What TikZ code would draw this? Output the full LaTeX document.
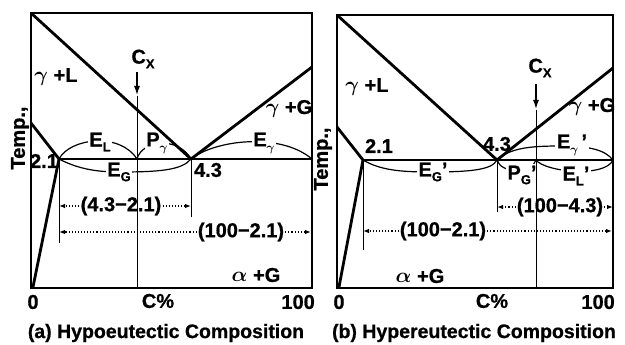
\documentclass[tikz,border=0pt]{standalone}
\usepackage{fontspec}
\setmainfont{Liberation Sans}[BoldFeatures={FakeBold=0.8}]
\usetikzlibrary{arrows.meta}
\newcommand{\lowidx}[1]{\raisebox{-0.45ex}{\fontsize{13}{13}\selectfont #1}}
\begin{document}
\begin{tikzpicture}[x=1pt,y=-1pt,
  frame/.style={line width=1.2pt},
  phase/.style={line width=2.8pt},
  thinphase/.style={line width=1.3pt},
  guide/.style={line width=1pt},
  arcline/.style={line width=1.2pt},
  dimline/.style={line width=1.1pt, dotted, -{Latex[length=6pt,width=4.5pt]}},
  cxarrow/.style={line width=2pt, -{Latex[length=10pt,width=6pt]}},
  lbl/.style={font=\fontsize{20}{20}\selectfont\bfseries\boldmath, inner sep=1pt},
  arclbl/.style={lbl, fill=white, inner sep=1.5pt},
  captext/.style={font=\fontsize{19.5}{20}\selectfont\bfseries, inner sep=0pt},
  axlbl/.style={lbl, rotate=90},
]
\useasboundingbox (0,0) rectangle (625,345);

% ================= panel (a) =================
\coordinate (aTL) at (31,13);
\coordinate (aBR) at (312,288);
\coordinate (aLs) at (31,123);
\coordinate (a21) at (59,159);
\coordinate (aLb) at (33,287);
\coordinate (a43) at (191,159);
\coordinate (aR)  at (312,159);
\coordinate (aGt) at (312,67);
\coordinate (aCt) at (137,72);
\coordinate (aCa) at (137,96);
\coordinate (aCb) at (137,288);
\coordinate (aCx) at (137,159);
\coordinate (a21d) at (59,243);
\coordinate (a43d) at (191,217);

% arcs (a)
\draw[arcline] (a21) .. controls (70,138) and (120,132) .. (aCx);
\draw[arcline] (aCx) .. controls (142,140) and (178,136) .. (a43);
\draw[arcline] (a43) .. controls (215,140) and (280,132) .. (aR);
\draw[arcline] (a21) .. controls (80,170) and (100,172) .. (120,172)
   .. controls (160,172) and (182,170) .. (a43);
\node[arclbl] (aEL) at (100,142) {E\lowidx{L}};
\node[arclbl] (aPg) at (157,143) {P\lowidx{$\gamma$}};
\node[arclbl] (aEg) at (264,143) {E\lowidx{$\gamma$}};
\node[arclbl] (aEG) at (119,172) {E\lowidx{G}};

\draw[frame] (aTL) rectangle (aBR);
\draw[phase] (aTL) -- (a43);
\draw[phase] (aLs) -- (a21) -- (aLb);
\draw[phase] (a21) -- (aR);
\draw[phase] (a43) -- (aGt);
\draw[guide] (aCa) -- (aCb);
\draw[cxarrow] (aCt) -- (aCa);
\draw[guide] (a21) -- (a21d);
\draw[guide] (a43) -- (a43d);

\node[lbl] (aCX) at (143,59) {C\lowidx{X}};
\node[lbl] (aGL) at (56,77) {$\gamma$ +L};
\node[lbl] (aGG) at (289,109) {$\gamma$ +G};
\node[lbl] (a21t) at (44,161) {2.1};
\node[lbl] (a43t) at (208,170) {4.3};
\node[lbl] (aAG) at (256,275) {$\alpha$ +G};

\node[lbl] (aD1) at (121,206) {(4.3−2.1)};
\coordinate (aD1l) at (59,206);
\coordinate (aD1r) at (191,206);
\draw[dimline] (aD1.west) -- (aD1l);
\draw[dimline] (aD1.east) -- (aD1r);
\node[lbl] (aD2) at (241,232) {(100−2.1)};
\coordinate (aD2l) at (59,232);
\coordinate (aD2r) at (311,232);
\draw[dimline] (aD2.west) -- (aD2l);
\draw[dimline] (aD2.east) -- (aD2r);

\node[lbl] (a0) at (33,302) {0};
\node[lbl] (aCp) at (158,301) {C\%};
\node[lbl, anchor=east] (a100) at (316,302) {100};
\node[axlbl] (aT) at (20,138) {Temp.,};
\node[captext] (aCap) at (166,333) {(a) Hypoeutectic Composition};

% ================= panel (b) =================
\coordinate (bTL) at (337,15);
\coordinate (bBR) at (613,288);
\coordinate (bLs) at (337,127);
\coordinate (b21) at (363,160);
\coordinate (bLb) at (339,287);
\coordinate (b43) at (497,160);
\coordinate (bR)  at (613,160);
\coordinate (bGt) at (613,68);
\coordinate (bCt) at (536,84);
\coordinate (bCa) at (536,110);
\coordinate (bCb) at (536,288);
\coordinate (bCx) at (536,160);
\coordinate (b21d) at (363,250);
\coordinate (b43d) at (497,212);

% arcs (b)
\draw[arcline] (b43) .. controls (510,148) and (530,146) .. (560,146)
   .. controls (590,146) and (605,150) .. (bR);
\draw[arcline] (b21) .. controls (380,170) and (400,172) .. (430,172)
   .. controls (470,172) and (492,170) .. (b43);
\draw[arcline] (b43) .. controls (501,174) and (532,174) .. (bCx);
\draw[arcline] (bCx) .. controls (545,172) and (605,178) .. (bR);
\node[arclbl] (bEg) at (572,145) {E\lowidx{$\gamma$}\,'};
\node[arclbl] (bEG) at (433,172) {E\lowidx{G}'};
\node[arclbl] (bPG) at (522,175) {P\lowidx{G}'};
\node[arclbl] (bEL) at (576,176) {E\lowidx{L}'};

\draw[frame] (bTL) rectangle (bBR);
\draw[phase] (bTL) -- (b43);
\draw[phase] (bLs) -- (b21) -- (bLb);
\draw[thinphase] (b21) -- (b43);
\draw[phase] (b43) -- (bR);
\draw[phase] (b43) -- (bGt);
\draw[guide] (bCa) -- (bCb);
\draw[cxarrow] (bCt) -- (bCa);
\draw[guide] (b21) -- (b21d);
\draw[guide] (b43) -- (b43d);

\node[lbl] (bCX) at (540,68) {C\lowidx{X}};
\node[lbl] (bGL) at (367,87) {$\gamma$ +L};
\node[lbl] (bGG) at (592,107) {$\gamma$ +G};
\node[lbl] (b21t) at (379,146) {2.1};
\node[lbl] (b43t) at (497,144) {4.3};
\node[lbl] (bAG) at (420,276) {$\alpha$ +G};

\node[lbl] (bD1) at (560,207) {(100−4.3)};
\coordinate (bD1l) at (497,207);
\coordinate (bD1r) at (613,207);
\draw[dimline] (bD1.west) -- (bD1l);
\draw[dimline] (bD1.east) -- (bD1r);
\node[lbl] (bD2) at (443,231) {(100−2.1)};
\coordinate (bD2l) at (363,231);
\coordinate (bD2r) at (612,231);
\draw[dimline] (bD2.west) -- (bD2l);
\draw[dimline] (bD2.east) -- (bD2r);

\node[lbl] (b0) at (339,302) {0};
\node[lbl] (bCp) at (492,301) {C\%};
\node[lbl, anchor=east] (b100) at (616,302) {100};
\node[axlbl] (bT) at (323,159) {Temp.,};
\node[captext] (bCap) at (474,333) {(b) Hypereutectic Composition};
\end{tikzpicture}
\end{document}
